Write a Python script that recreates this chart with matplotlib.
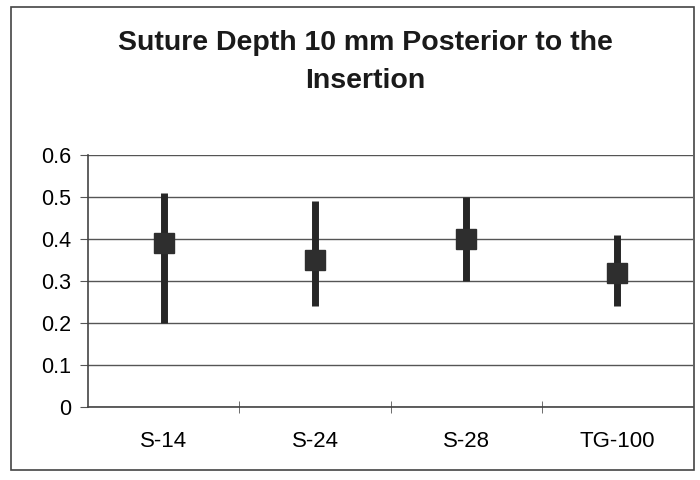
import matplotlib.pyplot as plt
import numpy as np
from matplotlib.patches import Rectangle

plt.rcParams['font.family'] = ['Liberation Sans', 'DejaVu Sans']

# suture types and depth stats (mm)
sutures = ['S-14', 'S-24', 'S-28', 'TG-100']
mean_depth = [0.39, 0.35, 0.40, 0.32]
max_depth = [0.51, 0.49, 0.50, 0.41]
min_depth = [0.20, 0.24, 0.30, 0.24]

fig = plt.figure(figsize=(7, 4.8), dpi=100)
ax = fig.add_axes([0.126, 0.152, 0.864, 0.525])

x = np.arange(len(sutures))
mean_depth = np.array(mean_depth)
err_lo = mean_depth - np.array(min_depth)
err_hi = np.array(max_depth) - mean_depth

ax.errorbar(x, mean_depth, yerr=[err_lo, err_hi], fmt='s', color='#2e2e2e',
            ecolor='#262626', elinewidth=5, capsize=0, markersize=15, zorder=3)

# axes styling
ax.set_xlim(-0.5, len(sutures) - 0.5)
ax.set_ylim(0, 0.6)
ax.set_yticks(np.arange(0, 0.61, 0.1))
ax.set_yticklabels(['0', '0.1', '0.2', '0.3', '0.4', '0.5', '0.6'])
ax.yaxis.grid(True, color='#555555', linewidth=1.0)
ax.set_axisbelow(True)

ax.set_xticks(x)
ax.set_xticklabels(sutures)
ax.set_xticks(np.arange(0.5, len(sutures) - 0.5, 1), minor=True)
ax.tick_params(axis='x', which='major', length=0, pad=17, labelsize=16)
ax.tick_params(axis='x', which='minor', length=8, direction='inout', color='#555555')
ax.tick_params(axis='y', length=6, direction='out', color='#555555', labelsize=15.5, pad=6)

for side in ['top', 'right']:
    ax.spines[side].set_visible(False)
for side in ['left', 'bottom']:
    ax.spines[side].set_color('#444444')
    ax.spines[side].set_linewidth(1.2)

fig.text(0.522, 0.871, 'Suture Depth 10 mm Posterior to the\nInsertion',
         ha='center', va='center', fontsize=20.5, fontweight='bold',
         linespacing=1.6, color='#1a1a1a')

# outer chart frame
fig.patches.append(Rectangle((0.016, 0.02), 0.976, 0.965, transform=fig.transFigure,
                             fill=False, edgecolor='#444444', linewidth=1.2))

fig.savefig('out.png', dpi=100)
